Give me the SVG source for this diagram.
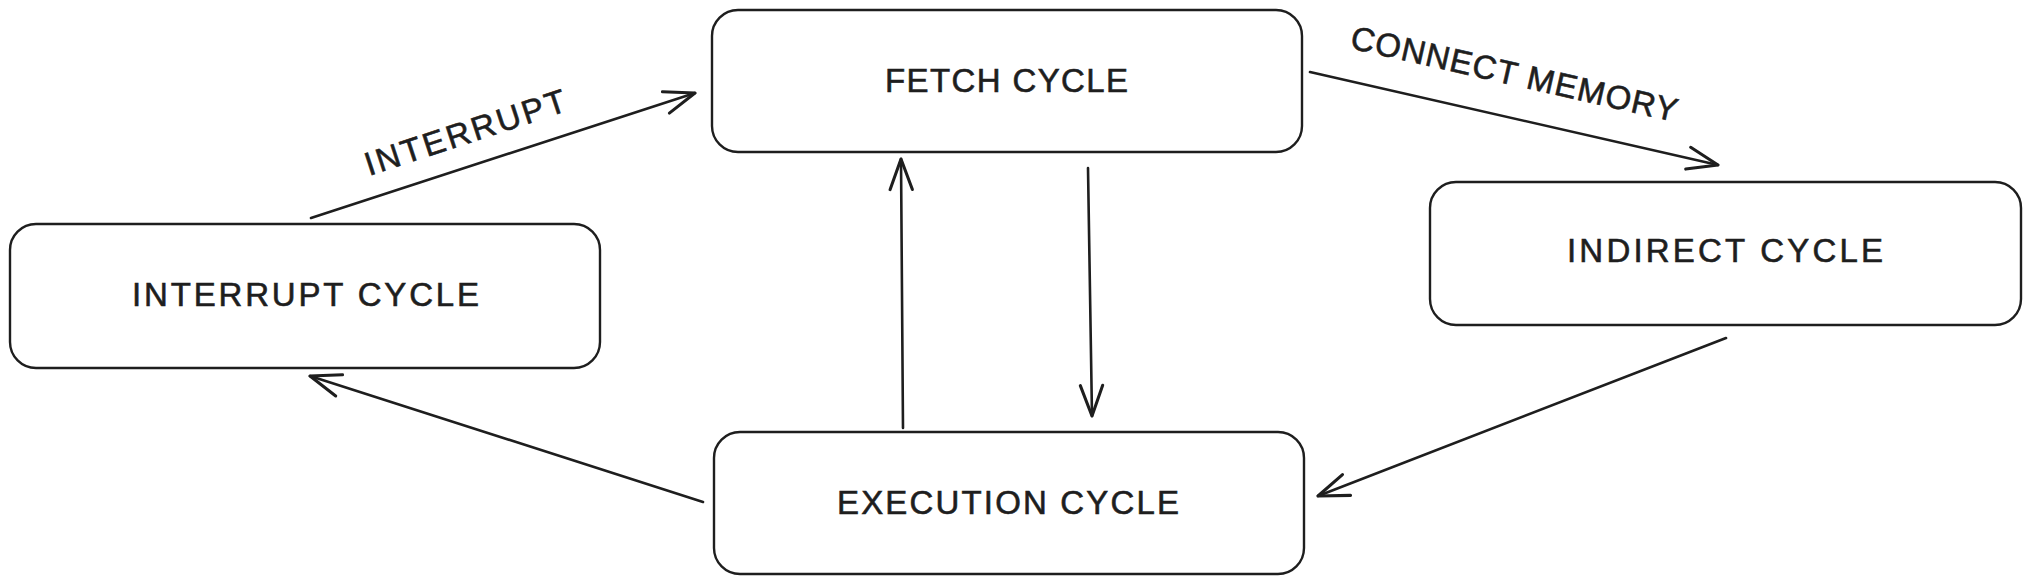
<svg xmlns="http://www.w3.org/2000/svg" width="2031" height="584" viewBox="0 0 2031 584">
  <style>
    .box { fill: #ffffff; stroke: #1e1e1e; stroke-width: 2.4; }
    .lbl { font-family: "Liberation Sans", Arial, sans-serif; font-size: 33px; fill: #1e1e1e; stroke: #1e1e1e; stroke-width: 0.6; }
    .edge { fill: none; stroke: #1e1e1e; stroke-width: 2.6; stroke-linecap: round; }
  </style>
  <defs>
    <marker id="arr" markerUnits="userSpaceOnUse" markerWidth="40" markerHeight="40" refX="0" refY="0" viewBox="-30 -15 34 30" orient="auto" overflow="visible">
      <path d="M-26,-9.5 L0,0 L-26,9.5" fill="none" stroke="#1e1e1e" stroke-width="2.6" stroke-linecap="round" stroke-linejoin="round"/>
    </marker>
  </defs>
  <rect width="2031" height="584" fill="#ffffff"/>

  <g id="fetch-cycle">
    <rect class="box" x="712" y="10" width="590" height="142" rx="26"/>
    <text class="lbl" x="885" y="92" textLength="243">FETCH CYCLE</text>
  </g>
  <g id="interrupt-cycle">
    <rect class="box" x="10" y="224" width="590" height="144" rx="26"/>
    <text class="lbl" x="132" y="306" textLength="347">INTERRUPT CYCLE</text>
  </g>
  <g id="indirect-cycle">
    <rect class="box" x="1430" y="182" width="591" height="143" rx="26"/>
    <text class="lbl" x="1567" y="262" textLength="316">INDIRECT CYCLE</text>
  </g>
  <g id="execution-cycle">
    <rect class="box" x="714" y="432" width="590" height="142" rx="26"/>
    <text class="lbl" x="837" y="514" textLength="342">EXECUTION CYCLE</text>
  </g>

  <g id="connectors">
    <path class="edge" marker-end="url(#arr)" d="M311,218 L695,93"/>
    <text class="lbl" x="369" y="176" textLength="210" transform="rotate(-18.2 369 176)">INTERRUPT</text>
    <path class="edge" marker-end="url(#arr)" d="M1310,72 L1718,165"/>
    <text class="lbl" x="1349" y="48" textLength="334" transform="rotate(12.8 1349 48)">CONNECT MEMORY</text>
    <path class="edge" marker-end="url(#arr)" d="M1088,168 L1092,416"/>
    <path class="edge" marker-end="url(#arr)" d="M903,428 L901,159"/>
    <path class="edge" marker-end="url(#arr)" d="M1726,338 L1318,496"/>
    <path class="edge" marker-end="url(#arr)" d="M703,502 L310,376"/>
  </g>
</svg>
